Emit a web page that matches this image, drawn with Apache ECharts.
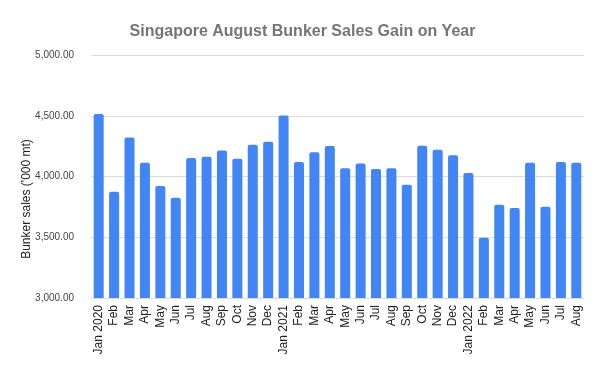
<!DOCTYPE html>
<html><head><meta charset="utf-8">
<script src="https://cdn.jsdelivr.net/npm/echarts@6/dist/echarts.min.js"></script>
<style>html,body{margin:0;padding:0;background:#fff}#c{width:605px;height:374px}</style>
</head><body><div id="c"></div>
<script>
const categories = ["Jan 2020","Feb","Mar","Apr","May","Jun","Jul","Aug","Sep","Oct","Nov","Dec",
  "Jan 2021","Feb","Mar","Apr","May","Jun","Jul","Aug","Sep","Oct","Nov","Dec",
  "Jan 2022","Feb","Mar","Apr","May","Jun","Jul","Aug"];
const sales = [4514,3875,4322,4114,3922,3826,4152,4163,4215,4147,4262,4287,
  4503,4119,4199,4252,4067,4108,4062,4067,3933,4254,4221,4174,
  4029,3496,3768,3741,4114,3752,4119,4114];
const yTicks = [3000, 3500, 4000, 4500, 5000];
const titleText = "Singapore August Bunker Sales Gain on Year";
const yName = "Bunker sales ('000 mt)";

const chart = echarts.init(document.getElementById('c'), null, {renderer:'canvas'});
chart.setOption({
  animation: false,
  backgroundColor: '#fff',
  title: {
    text: titleText, left: 'center', top: 19,
    textStyle: {fontFamily: 'Liberation Sans, Arial', fontSize: 16, fontWeight: 'bold', color: '#757575'}
  },
  graphic: [{
    type: 'text', x: 27, y: 199, rotation: Math.PI/2,
    style: {text: yName, fontFamily: 'Liberation Sans, Arial', fontSize: 12, fill: '#222',
      align: 'center', verticalAlign: 'middle'}
  }],
  grid: {left: 91, right: 21, top: 55, bottom: 76, containLabel: false},
  xAxis: {
    type: 'category', data: categories,
    axisLine: {show: false}, axisTick: {show: false},
    axisLabel: {rotate: 90, interval: 0, margin: 7, fontFamily: 'Liberation Sans, Arial', fontSize: 12, color: '#222'}
  },
  yAxis: {
    type: 'value', min: yTicks[0], max: yTicks[yTicks.length-1], interval: 500,
    axisLine: {show: false}, axisTick: {show: false},
    splitLine: {lineStyle: {color: '#dcdcdc', width: 1}},
    axisLabel: {
      margin: 17, fontFamily: 'Liberation Sans, Arial', fontSize: 10, color: '#444',
      formatter: v => v.toLocaleString('en-US', {minimumFractionDigits: 2, maximumFractionDigits: 2})
    }
  },
  series: [{
    type: 'bar', data: sales, barCategoryGap: '35%',
    itemStyle: {color: '#4285F4', borderRadius: [2,2,0,0]}
  }]
});
</script></body></html>
